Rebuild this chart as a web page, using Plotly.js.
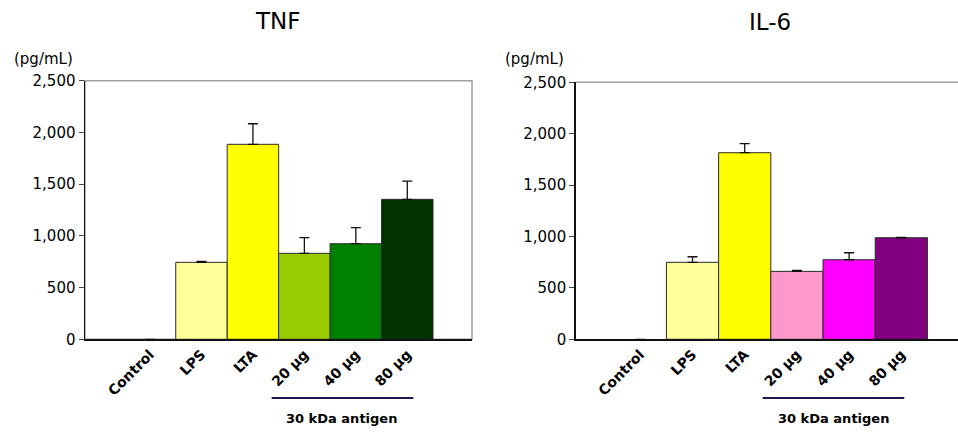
<!DOCTYPE html>
<html>
<head>
<meta charset="utf-8">
<script src="https://cdn.plot.ly/plotly-3.0.1.min.js"></script>
<style>html,body{margin:0;padding:0;background:#fff;}#chart{width:958px;height:433px;}</style>
</head>
<body>
<div id="chart"></div>
<script>
var categories = ['Control', 'LPS', 'LTA', '20 µg', '40 µg', '80 µg'];
var tnfValues = [0, 744, 1885, 831, 924, 1353];
var tnfErrors = [0, 10, 199, 151, 155, 177];
var il6Values = [0, 749, 1815, 661, 774, 988];
var il6Errors = [0, 54, 88, 10, 68, 4];
var tnfColors = ['#ffffff', '#ffff99', '#ffff00', '#99cc00', '#008000', '#003300'];
var il6Colors = ['#ffffff', '#ffff99', '#ffff00', '#ff99cc', '#ff00ff', '#800080'];
var yTicks = [0, 500, 1000, 1500, 2000, 2500];
var chartTitles = ['TNF', 'IL-6'];
var unitLabel = '(pg/mL)';
var groupLabel = '30 kDa antigen';

var F = 'DejaVu Sans, Verdana, sans-serif';
var zeros = categories.map(function(){return 0;});

function barTrace(vals, errs, colors, xa, ya) {
  return {
    type: 'bar', x: categories, y: vals, xaxis: xa, yaxis: ya,
    width: 1,
    marker: {color: colors, line: {color: '#2a2a2a', width: vals.map(function(v){return v > 0 ? 1 : 0;})}},
    error_y: {type: 'data', array: errs, arrayminus: zeros, symmetric: false,
              color: '#111', thickness: 1.3, width: 5},
    hoverinfo: 'skip', showlegend: false
  };
}

var xCommon = {
  type: 'category', showgrid: false, zeroline: false, ticks: '',
  showline: true, linecolor: '#111', linewidth: 1.5,
  tickangle: -45, tickfont: {family: F, size: 14, color: '#000', weight: 'bold'},
  fixedrange: true
};
var yCommon = {
  range: [0, 2500], tickvals: yTicks, tickformat: ',d',
  showgrid: false, zeroline: false, showline: true, linecolor: '#111', linewidth: 1.5,
  ticks: 'outside', ticklen: 5, tickwidth: 1, tickcolor: '#444',
  tickfont: {family: F, size: 15, color: '#000'}, fixedrange: true
};

var layout = {
  width: 958, height: 433,
  margin: {l: 0, r: 0, t: 0, b: 0},
  paper_bgcolor: '#fff', plot_bgcolor: '#fff',
  bargap: 0,
  xaxis: Object.assign({}, xCommon, {domain: [85/958, 472/958], range: [-1.264, 6.258], anchor: 'y'}),
  yaxis: Object.assign({}, yCommon, {domain: [(433-339.3)/433, (433-80.7)/433], anchor: 'x'}),
  xaxis2: Object.assign({}, xCommon, {domain: [575.7/958, 1], range: [-1.238, 6.086], anchor: 'y2'}),
  yaxis2: Object.assign({}, yCommon, {domain: [(433-339.3)/433, (433-82.3)/433], anchor: 'x2'}),
  shapes: [
    {type: 'rect', xref: 'x domain', yref: 'y domain', x0: 0, x1: 1, y0: 0, y1: 1,
     line: {color: '#a0a0a0', width: 1.5}, layer: 'below'},
    {type: 'line', xref: 'x2 domain', yref: 'y2 domain', x0: 0, x1: 1, y0: 1, y1: 1,
     line: {color: '#a0a0a0', width: 1.5}, layer: 'below'},
    {type: 'line', xref: 'x', yref: 'paper', x0: 2.364, x1: 5.117, y0: 1-398/433, y1: 1-398/433,
     line: {color: '#1a1a4e', width: 2}},
    {type: 'line', xref: 'x2', yref: 'paper', x0: 2.345, x1: 5.057, y0: 1-398/433, y1: 1-398/433,
     line: {color: '#1a1a4e', width: 2}}
  ],
  annotations: [
    {text: chartTitles[0], xref: 'paper', yref: 'paper', x: 277.5/958, y: 1-21/433,
     xanchor: 'center', yanchor: 'middle', showarrow: false,
     font: {family: F, size: 23, color: '#000'}},
    {text: chartTitles[1], xref: 'paper', yref: 'paper', x: 770/958, y: 1-22/433,
     xanchor: 'center', yanchor: 'middle', showarrow: false,
     font: {family: F, size: 23, color: '#000'}},
    {text: unitLabel, xref: 'paper', yref: 'paper', x: 43/958, y: 1-59/433,
     xanchor: 'center', yanchor: 'middle', showarrow: false,
     font: {family: F, size: 15, color: '#000'}},
    {text: unitLabel, xref: 'paper', yref: 'paper', x: 534.5/958, y: 1-59/433,
     xanchor: 'center', yanchor: 'middle', showarrow: false,
     font: {family: F, size: 15, color: '#000'}},
    {text: groupLabel, xref: 'x', yref: 'paper', x: 3.725, y: 1-418/433,
     xanchor: 'center', yanchor: 'middle', showarrow: false,
     font: {family: F, size: 13, color: '#000', weight: 'bold'}},
    {text: groupLabel, xref: 'x2', yref: 'paper', x: 3.697, y: 1-418/433,
     xanchor: 'center', yanchor: 'middle', showarrow: false,
     font: {family: F, size: 13, color: '#000', weight: 'bold'}}
  ]
};

Plotly.newPlot('chart', [
  barTrace(tnfValues, tnfErrors, tnfColors, 'x', 'y'),
  barTrace(il6Values, il6Errors, il6Colors, 'x2', 'y2')
], layout, {displayModeBar: false, staticPlot: true});
</script>
</body>
</html>
